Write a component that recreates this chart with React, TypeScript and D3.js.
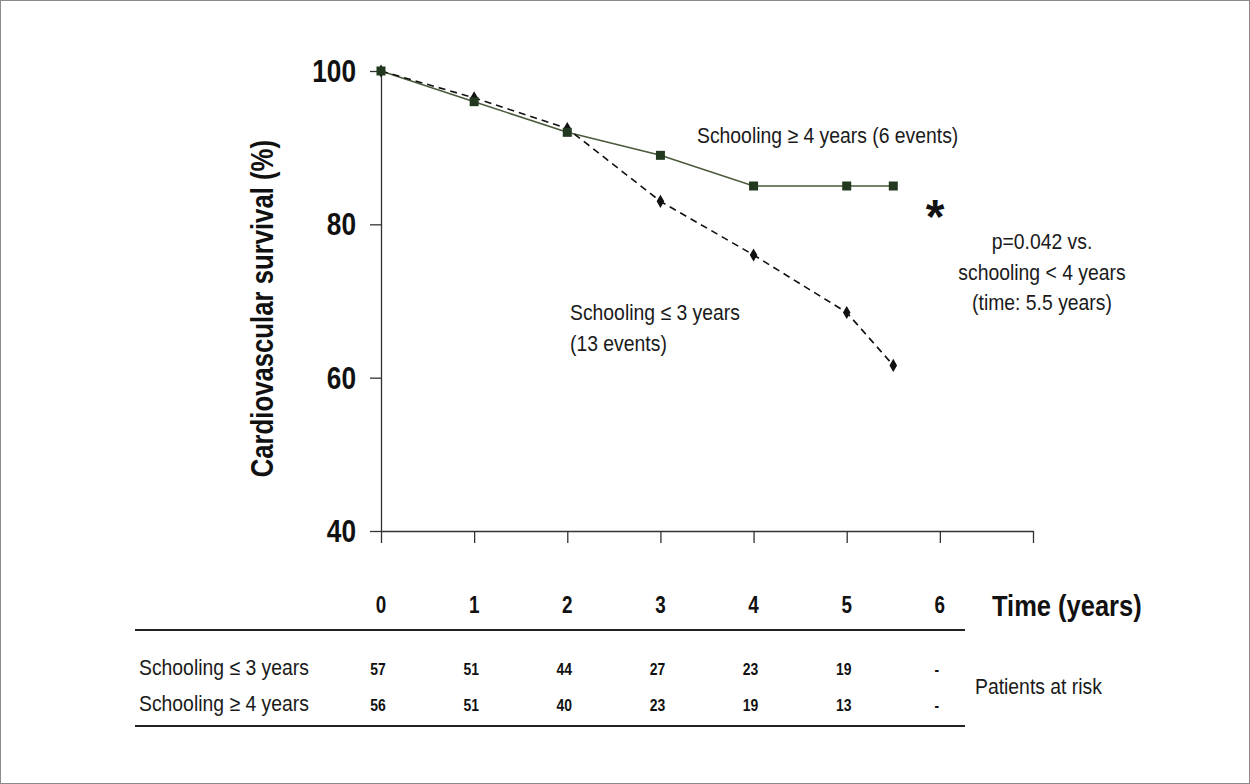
import React, { Component, createRef } from 'react'
import * as d3 from 'd3'

// survival curves (years, %)
const years = [0, 1, 2, 3, 4, 5, 5.5]
const survivalLow = [100, 96.5, 92.5, 83, 76, 68.5, 61.6]
const survivalHigh = [100, 96, 92, 89, 85, 85, 85]

const xTicks = [0, 1, 2, 3, 4, 5, 6, 7]
const xTickLabels = ['0', '1', '2', '3', '4', '5', '6']
const yTicks = [40, 60, 80, 100]

// patients at risk table
const riskYears = [0, 1, 2, 3, 4, 5, 6]
const riskLow = ['57', '51', '44', '27', '23', '19', '-']
const riskHigh = ['56', '51', '40', '23', '19', '13', '-']
const groupLabels = ['Schooling \u2264 3 years', 'Schooling \u2265 4 years']

// no narrow face installed, so squeeze Liberation Sans horizontally
const FONT = "'Liberation Sans', Arial, sans-serif"
const BOLD_SQUEEZE = 0.82
const SQUEEZE = 0.88

class Chart extends Component {
  canvas = createRef<HTMLDivElement>()

  componentDidMount() {
    this.draw(1250, 784)
  }

  label(parent: any, tx: number, ty: number, txt: string, size: number, bold: boolean, anchor = 'start') {
    const k = bold ? BOLD_SQUEEZE : SQUEEZE
    return parent
      .append('text')
      .attr('transform', 'translate(' + tx + ',' + ty + ') scale(' + k + ',1)')
      .attr('text-anchor', anchor)
      .attr('font-family', FONT)
      .attr('font-weight', bold ? 'bold' : 'normal')
      .attr('font-size', size)
      .attr('fill', bold ? '#111' : '#1a1a1a')
      .text(txt)
  }

  draw(width: number, height: number) {
    const x = d3.scaleLinear().domain([0, 7]).range([381, 1033])
    const y = d3.scaleLinear().domain([40, 100]).range([531, 71])

    d3.select(this.canvas.current).selectAll('*').remove()

    const svg = d3
      .select(this.canvas.current)
      .append('svg')
      .attr('width', width)
      .attr('height', height)
      .style('display', 'block')
      .style('background', '#fff')

    svg
      .append('rect')
      .attr('x', 0.5)
      .attr('y', 0.5)
      .attr('width', width - 1)
      .attr('height', height - 1)
      .attr('fill', '#fff')
      .attr('stroke', '#8a8a8a')

    // axes
    const yAxis = svg
      .append('g')
      .attr('transform', 'translate(' + x(0) + ',0)')
      .call(d3.axisLeft(y).tickValues(yTicks).tickSize(11).tickSizeOuter(0).tickFormat(() => ''))
    yAxis.selectAll('path, line').attr('stroke', '#333').attr('stroke-width', 1.3)

    yTicks.forEach((t) => {
      this.label(svg, x(0) - 25, y(t) + 11, String(t), 32, true, 'end')
    })

    const xAxis = svg
      .append('g')
      .attr('transform', 'translate(0,' + y(40) + ')')
      .call(d3.axisBottom(x).tickValues(xTicks).tickSize(12).tickSizeOuter(0).tickFormat(() => ''))
    xAxis.selectAll('path, line').attr('stroke', '#333').attr('stroke-width', 1.3)

    xTickLabels.forEach((d, i) => {
      this.label(svg, x(i), 613, d, 23, true, 'middle')
    })

    svg
      .append('text')
      .attr('transform', 'translate(992,616) scale(0.85,1)')
      .attr('font-family', FONT)
      .attr('font-weight', 'bold')
      .attr('font-size', 30)
      .attr('fill', '#111')
      .text('Time (years)')

    svg
      .append('text')
      .attr('transform', 'translate(273,' + y(69) + ') rotate(-90) scale(0.83,1)')
      .attr('text-anchor', 'middle')
      .attr('font-family', FONT)
      .attr('font-weight', 'bold')
      .attr('font-size', 31)
      .attr('fill', '#111')
      .text('Cardiovascular survival (%)')

    // curves
    const high = years.map((t, i) => ({ t, s: survivalHigh[i] }))
    const low = years.map((t, i) => ({ t, s: survivalLow[i] }))

    const line = d3
      .line<{ t: number; s: number }>()
      .x((d) => x(d.t))
      .y((d) => y(d.s))

    svg
      .append('path')
      .datum(high)
      .attr('d', line)
      .style('fill', 'none')
      .style('stroke', '#4b5a3c')
      .style('stroke-width', 1.6)

    svg
      .append('path')
      .datum(low)
      .attr('d', line)
      .style('fill', 'none')
      .style('stroke', '#111')
      .style('stroke-width', 1.6)
      .style('stroke-dasharray', '7,5')

    svg
      .append('g')
      .selectAll('path')
      .data(low)
      .enter()
      .append('path')
      .attr('d', d3.symbol(d3.symbolDiamond, 50))
      .attr('transform', (d) => 'translate(' + x(d.t) + ',' + y(d.s) + ')')
      .style('fill', '#111')

    svg
      .append('g')
      .selectAll('rect')
      .data(high)
      .enter()
      .append('rect')
      .attr('x', (d) => x(d.t) - 4.5)
      .attr('y', (d) => y(d.s) - 4.5)
      .attr('width', 9)
      .attr('height', 9)
      .style('fill', '#23391f')

    // annotations
    this.label(svg, 697, 143, 'Schooling \u2265 4 years (6 events)', 22, false)
    this.label(svg, 570, 320, 'Schooling \u2264 3 years', 22, false)
    this.label(svg, 570, 351, '(13 events)', 22, false)
    this.label(svg, 1042, 249, 'p=0.042 vs.', 22, false, 'middle')
    this.label(svg, 1042, 280, 'schooling < 4 years', 22, false, 'middle')
    this.label(svg, 1042, 310, '(time: 5.5 years)', 22, false, 'middle')

    svg
      .append('text')
      .attr('x', 935)
      .attr('y', 233)
      .attr('text-anchor', 'middle')
      .attr('font-family', FONT)
      .attr('font-weight', 'bold')
      .attr('font-size', 48)
      .attr('fill', '#111')
      .text('*')

    // patients at risk
    ;[630, 726].forEach((ly) => {
      svg
        .append('line')
        .attr('x1', 135)
        .attr('x2', 965)
        .attr('y1', ly)
        .attr('y2', ly)
        .attr('stroke', '#222')
        .attr('stroke-width', 2)
    })

    const rows = [riskLow, riskHigh]
    const rowY = [675, 711]
    rows.forEach((row, r) => {
      this.label(svg, 139, rowY[r], groupLabels[r], 22, false)
      row.forEach((d, i) => {
        this.label(svg, x(riskYears[i]) - 3, rowY[r], d, 17, true, 'middle')
      })
    })
    this.label(svg, 975, 694, 'Patients at risk', 22, false)
  }

  render() {
    return <div ref={this.canvas}></div>
  }
}

export default function App() {
  return (
    <div style={{ position: 'absolute', left: 0, top: 0 }}>
      <Chart />
    </div>
  )
}
